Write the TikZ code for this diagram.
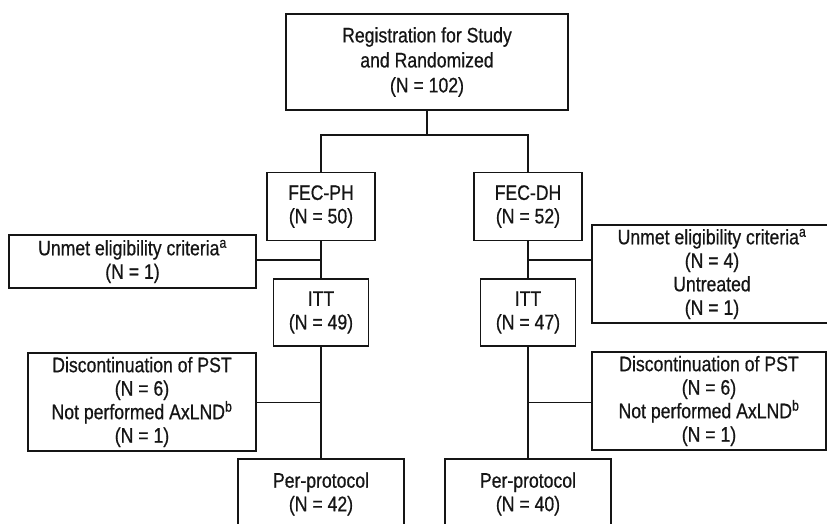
\documentclass[tikz,border=0pt]{standalone}
\usepackage{fontspec}
\setmainfont[FakeStretch=0.84,FakeBold=0.6]{Liberation Sans}
\usetikzlibrary{calc}
\definecolor{FlowInk}{HTML}{151515}

\begin{document}
\begin{tikzpicture}[x=1pt,y=-1pt,
  box/.style={draw=FlowInk,line width=1.5pt,text=FlowInk,align=center,
    inner sep=0pt,font=\fontsize{21}{23.5}\selectfont},
  link/.style={draw=FlowInk,line width=1.5pt}]
  \useasboundingbox (0,0) rectangle (827,524);
  \clip (0,0) rectangle (827,524);
  \node[box,minimum width=282pt,minimum height=96pt,
    font=\fontsize{21}{25}\selectfont] (reg) at (427,62)
    {Registration for Study\\and Randomized\\(N = 102)};
  \foreach \x/\nm/\arm/\nf/\ni/\np in {321/L/PH/50/49/42,528/R/DH/52/47/40}{
    \node[box,minimum width=108pt,minimum height=68pt] (fec\nm) at (\x,206.5)
      {FEC-\arm\\(N = \nf)};
    \node[box,minimum width=95pt,minimum height=67pt] (itt\nm) at (\x,312.5)
      {ITT\\(N = \ni)};
    \node[box,minimum width=166pt,minimum height=70pt] (pp\nm) at (\x,494)
      {Per-protocol\\(N = \np)};
  }
  % side boxes; the right ones run past the edge of the page
  \node[box,minimum width=247pt,minimum height=53pt] (unmetL) at (132.5,261.5)
    {Unmet eligibility criteria\textsuperscript{a}\\(N = 1)};
  \node[box,minimum width=240pt,minimum height=98pt] (unmetR) at (712,274)
    {Unmet eligibility criteria\textsuperscript{a}\\(N = 4)\\Untreated\\(N = 1)};
  \node[box,minimum width=228pt,minimum height=98pt] (stopL) at (142,402)
    {Discontinuation of PST\\(N = 6)\\Not performed AxLND\textsuperscript{b}\\(N = 1)};
  \node[box,minimum width=234pt,minimum height=98pt] (stopR) at (709,401)
    {Discontinuation of PST\\(N = 6)\\Not performed AxLND\textsuperscript{b}\\(N = 1)};

  \coordinate (split) at ($(reg.south)!0.4!(reg.south |- fecL.north)$);
  \draw[link] (reg.south) -- (split);
  \draw[link] (fecL.north) |- (split) -| (fecR.north);
  \foreach \nm in {L,R}{
    \draw[link] (fec\nm.south) -- (itt\nm.north);
    \draw[link] (itt\nm.south) -- (pp\nm.north);
    \coordinate (mid\nm) at ($(fec\nm.south)!0.5!(itt\nm.north)$);
    \coordinate (low\nm) at ($(itt\nm.south)!0.5!(pp\nm.north)$);
  }
  \draw[link] (unmetL.east |- midL) -- (midL);
  \draw[link] (midR) -- (midR -| unmetR.west);
  \draw[link] (stopL.east |- lowL) -- (lowL);
  \draw[link] (lowR) -- (lowR -| stopR.west);
\end{tikzpicture}
\end{document}
